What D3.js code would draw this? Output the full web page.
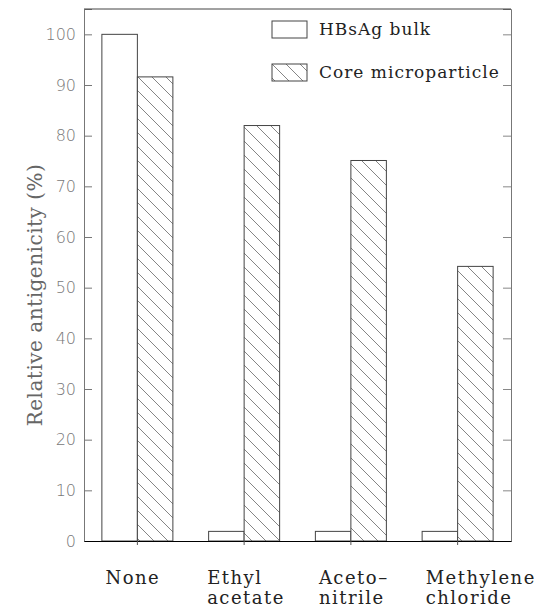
<!DOCTYPE html>
<html>
<head>
<meta charset="utf-8">
<script src="https://cdn.jsdelivr.net/npm/d3@7"></script>
<style>
  body { margin: 0; background: #fff; }
  svg { display: block; }
</style>
</head>
<body>
<svg id="chart" width="541" height="608"></svg>
<script>
// data
var solvents = ["None", "Ethyl acetate", "Aceto- nitrile", "Methylene chloride"];
var labelLines = [["None"], ["Ethyl", "acetate"], ["Aceto\u2013", "nitrile"], ["Methylene", "chloride"]];
var bulkValues = [100, 1.9, 1.9, 1.9];
var coreValues = [91.6, 82.0, 75.1, 54.2];
var seriesNames = ["HBsAg bulk", "Core microparticle"];
var yTicks = [0, 10, 20, 30, 40, 50, 60, 70, 80, 90, 100];

var margin = {top: 9, right: 30, bottom: 67, left: 84};
var width = 541 - margin.left - margin.right;
var height = 608 - margin.top - margin.bottom;

var svg = d3.select("#chart");

/* hatch pattern */
var defs = svg.append("defs");
var hatch = defs.append("pattern")
    .attr("id", "hatch")
    .attr("patternUnits", "userSpaceOnUse")
    .attr("width", 14)
    .attr("height", 14);
hatch.append("rect").attr("width", 14).attr("height", 14).attr("fill", "#fff");
hatch.append("path")
    .attr("d", "M-3.5,10.5 L3.5,17.5 M0,0 L14,14 M10.5,-3.5 L17.5,3.5")
    .attr("stroke", "#666")
    .attr("stroke-width", 0.8);

var g = svg.append("g")
    .attr("transform", "translate(" + margin.left + "," + margin.top + ")");

var x = d3.scaleBand()
    .domain(solvents)
    .range([0, width])
    .padding(0);

var y = d3.scaleLinear()
    .domain([0, 105])
    .range([height, 0]);

var barW = 35.5;

/* bulk bars */
g.selectAll(".bulk")
    .data(bulkValues)
    .enter().append("rect")
    .attr("class", "bulk")
    .attr("x", function (d, i) { return x(solvents[i]) + x.bandwidth() / 2 - barW; })
    .attr("y", function (d) { return y(d); })
    .attr("width", barW)
    .attr("height", function (d) { return height - y(d); })
    .attr("fill", "#fff")
    .attr("stroke", "#444")
    .attr("stroke-width", 1);

/* core bars */
g.selectAll(".core")
    .data(coreValues)
    .enter().append("rect")
    .attr("class", "core")
    .attr("x", function (d, i) { return x(solvents[i]) + x.bandwidth() / 2; })
    .attr("y", function (d) { return y(d); })
    .attr("width", barW)
    .attr("height", function (d) { return height - y(d); })
    .attr("fill", "url(#hatch)")
    .attr("stroke", "#444")
    .attr("stroke-width", 1);

/* axes */
var yAxis = g.append("g")
    .attr("class", "y axis")
    .call(d3.axisLeft(y).tickValues(yTicks).tickSize(-8).tickPadding(8));

yAxis.select(".domain").attr("stroke", "#777");
yAxis.selectAll(".tick line").attr("stroke", "#777");
yAxis.selectAll(".tick text")
    .attr("fill", "#777")
    .style("font-family", "'DejaVu Sans', sans-serif")
    .style("font-weight", "200")
    .style("font-size", "16px");

var yRight = g.append("g")
    .attr("transform", "translate(" + width + ",0)")
    .call(d3.axisRight(y).tickValues(yTicks).tickSize(-8).tickFormat(""));
yRight.select(".domain").attr("stroke", "#777");
yRight.selectAll(".tick line").attr("stroke", "#888");

g.append("line")
    .attr("x1", 0).attr("x2", width)
    .attr("y1", 0).attr("y2", 0)
    .attr("stroke", "#444");

var xAxis = g.append("g")
    .attr("transform", "translate(0," + height + ")")
    .call(d3.axisBottom(x).tickSize(4).tickSizeOuter(0).tickFormat(""));
xAxis.select(".domain").attr("stroke", "#000").attr("stroke-width", 1.2);
xAxis.selectAll(".tick line").attr("stroke", "#555");

/* category labels */
var catLabels = g.selectAll(".cat")
    .data(solvents)
    .enter().append("text")
    .attr("class", "cat")
    .attr("x", function (d, i) { return x(d) + x.bandwidth() / 2 - (i === 1 ? 37 : 32); })
    .attr("y", height + 43)
    .style("font-family", "'DejaVu Serif', serif")
    .style("font-size", "18px")
    .style("letter-spacing", "1.5px")
    .attr("fill", "#222");

catLabels.selectAll("tspan")
    .data(function (d, i) { return labelLines[i]; })
    .enter().append("tspan")
    .attr("x", function () { return d3.select(this.parentNode).attr("x"); })
    .attr("dy", function (d, i) { return i === 0 ? 0 : 20; })
    .text(function (d) { return d; });

/* y title */
svg.append("text")
    .attr("transform", "translate(42," + (margin.top + height / 2 + 20) + ") rotate(-90)")
    .attr("text-anchor", "middle")
    .style("font-family", "'DejaVu Serif', serif")
    .style("font-size", "20px")
    .style("letter-spacing", "0.5px")
    .attr("fill", "#666")
    .text("Relative antigenicity (%)");

/* legend */
var legend = svg.append("g").attr("transform", "translate(272,21)");
var fills = ["#fff", "url(#hatch)"];
var items = legend.selectAll(".item")
    .data(seriesNames)
    .enter().append("g")
    .attr("transform", function (d, i) { return "translate(0," + (i * 43) + ")"; });
items.append("rect")
    .attr("width", 35)
    .attr("height", 17)
    .attr("fill", function (d, i) { return fills[i]; })
    .attr("stroke", "#444");
items.append("text")
    .attr("x", 47)
    .attr("y", 14)
    .style("font-family", "'DejaVu Serif', serif")
    .style("font-size", "17px")
    .style("letter-spacing", "1px")
    .attr("fill", "#222")
    .text(function (d) { return d; });
</script>
</body>
</html>
